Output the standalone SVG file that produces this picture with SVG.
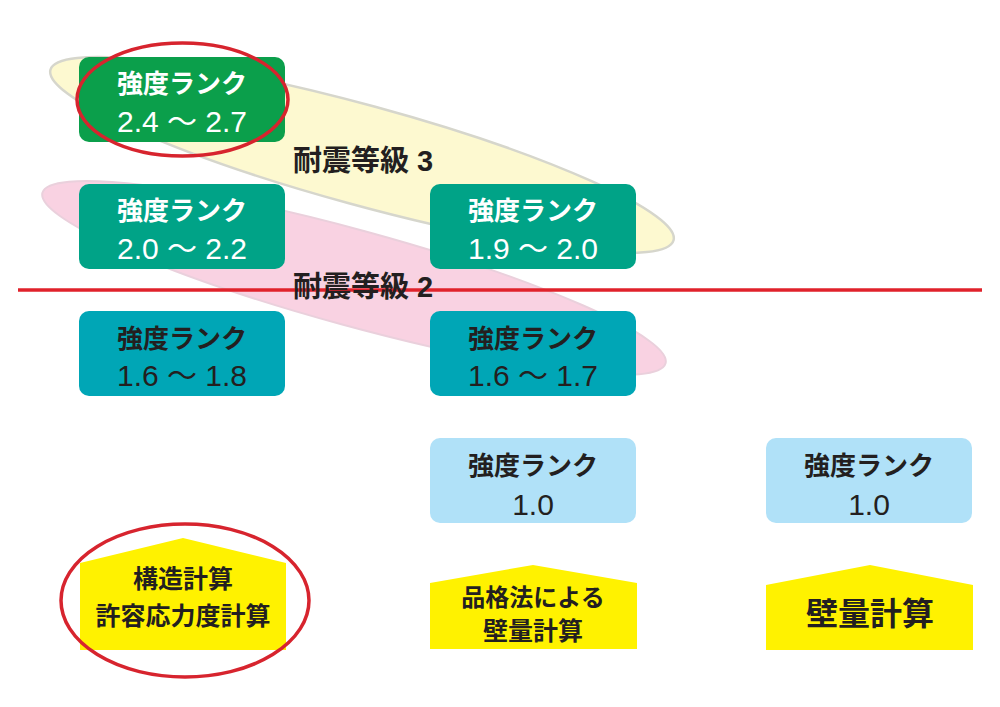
<svg xmlns="http://www.w3.org/2000/svg" width="1000" height="707" viewBox="0 0 1000 707">
<style>
.box{stroke:none}
.jp{font-family:"Liberation Sans","Noto Sans CJK JP",sans-serif;font-weight:bold;text-anchor:middle}
.num{font-family:"Liberation Sans","Noto Sans CJK JP",sans-serif;font-weight:normal;text-anchor:middle;font-size:30px}
.w{fill:#ffffff}
.d{fill:#231f20}
.lbl{font-family:"Liberation Sans","Noto Sans CJK JP",sans-serif;font-weight:bold;font-size:29px;fill:#231f20}
.house{fill:#fff200}
.ring{fill:none;stroke:#d7242e;stroke-width:3.5}
</style>
<rect width="1000" height="707" fill="#ffffff"/>
<g id="bands">
<ellipse cx="362" cy="155" rx="323" ry="50" transform="rotate(15.3 362 155)" fill="#fdf9d0" stroke="#d6d6cc" stroke-width="2.5"/>
<ellipse cx="354" cy="278" rx="323" ry="48" transform="rotate(15.3 354 278)" fill="#f9d2e2" stroke="#ead0dc" stroke-width="2"/>
</g>
<g id="connectors">
<line x1="18" y1="290" x2="982" y2="290" stroke="#e0222b" stroke-width="3.5"/>
</g>
<g id="label3"><text class="lbl" x="293" y="171">耐震等級 3</text></g>
<g id="label2"><text class="lbl" x="293" y="297">耐震等級 2</text></g>
<g id="box1">
<rect class="box" x="79" y="57" width="206" height="85" rx="10" fill="#0b9f4b"/>
<text class="jp w" x="182" y="93" font-size="26">強度ランク</text>
<text class="num w" x="182" y="132">2.4 ～ 2.7</text>
</g>
<g id="box2">
<rect class="box" x="79" y="184" width="206" height="85" rx="10" fill="#00a387"/>
<text class="jp w" x="182" y="220" font-size="26">強度ランク</text>
<text class="num w" x="182" y="259">2.0 ～ 2.2</text>
</g>
<g id="box3">
<rect class="box" x="430" y="184" width="206" height="85" rx="10" fill="#00a387"/>
<text class="jp w" x="533" y="220" font-size="26">強度ランク</text>
<text class="num w" x="533" y="259">1.9 ～ 2.0</text>
</g>
<g id="box4">
<rect class="box" x="79" y="311" width="206" height="85" rx="10" fill="#00a6b6"/>
<text class="jp d" x="182" y="348" font-size="26">強度ランク</text>
<text class="num d" x="182" y="386">1.6 ～ 1.8</text>
</g>
<g id="box5">
<rect class="box" x="430" y="311" width="206" height="85" rx="10" fill="#00a6b6"/>
<text class="jp d" x="533" y="348" font-size="26">強度ランク</text>
<text class="num d" x="533" y="386">1.6 ～ 1.7</text>
</g>
<g id="box6">
<rect class="box" x="430" y="438" width="206" height="85" rx="10" fill="#b0e1f8"/>
<text class="jp d" x="533" y="475" font-size="26">強度ランク</text>
<text class="num d" x="533" y="515">1.0</text>
</g>
<g id="box7">
<rect class="box" x="766" y="438" width="206" height="85" rx="10" fill="#b0e1f8"/>
<text class="jp d" x="869" y="475" font-size="26">強度ランク</text>
<text class="num d" x="869" y="515">1.0</text>
</g>
<g id="house1">
<polygon class="house" points="80,563 183,538 286,563 286,650 80,650"/>
<text class="jp d" x="183" y="588" font-size="25">構造計算</text>
<text class="jp d" x="183" y="625" font-size="25">許容応力度計算</text>
</g>
<g id="house2">
<polygon class="house" points="430,583 533,565 637,583 637,649 430,649"/>
<text class="jp d" x="533" y="606" font-size="24">品格法による</text>
<text class="jp d" x="533" y="640" font-size="25">壁量計算</text>
</g>
<g id="house3">
<polygon class="house" points="766,585 870,565 973,585 973,650 766,650"/>
<text class="jp d" x="870" y="625" font-size="32">壁量計算</text>
</g>
<g id="highlights">
<ellipse class="ring" cx="182.5" cy="99.5" rx="105.5" ry="56.5"/>
<ellipse class="ring" cx="185" cy="600.5" rx="124" ry="76.5"/>
</g>
</svg>
